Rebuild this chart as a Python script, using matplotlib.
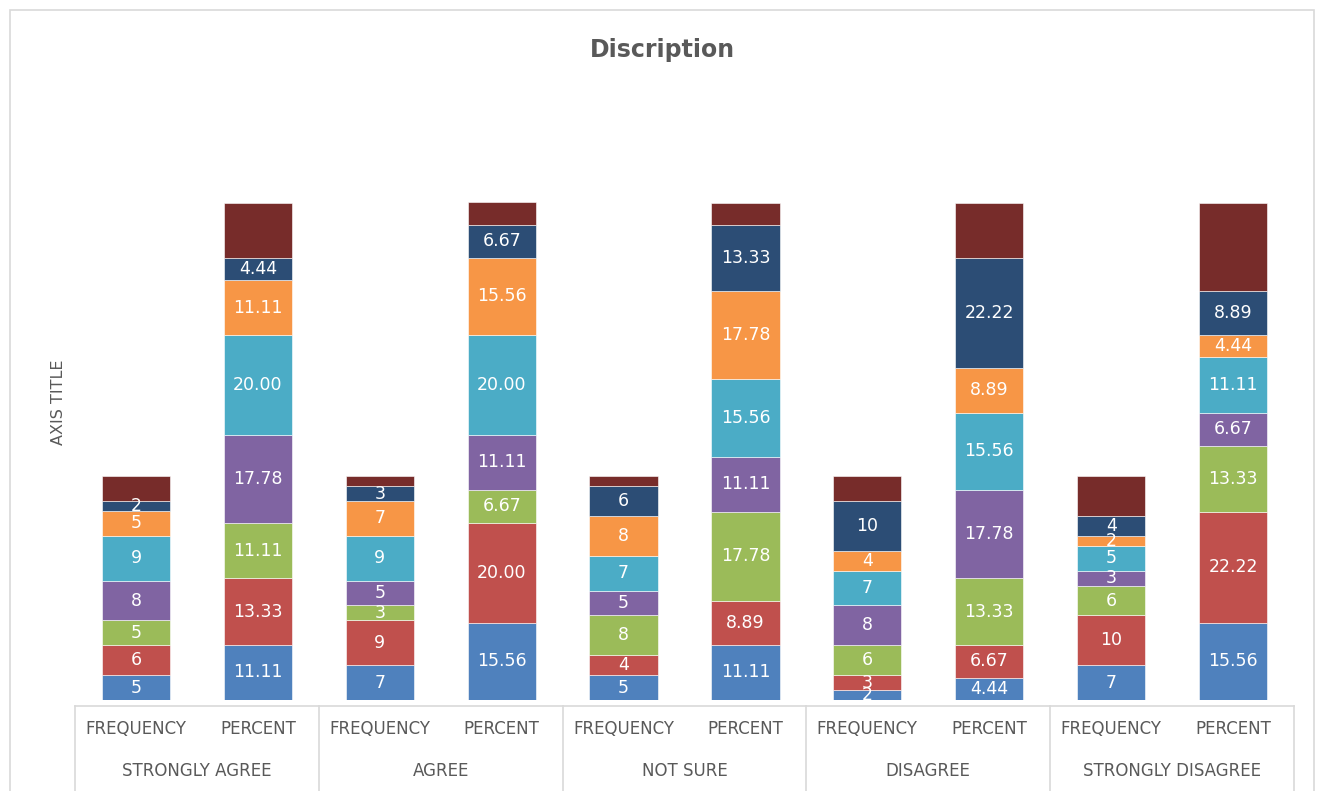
import matplotlib
matplotlib.use('Agg')
import matplotlib.pyplot as plt
from matplotlib.transforms import blended_transform_factory
from matplotlib.patches import Rectangle
from matplotlib.lines import Line2D

groups = ['STRONGLY AGREE', 'AGREE', 'NOT SURE', 'DISAGREE', 'STRONGLY DISAGREE']
subs = ['FREQUENCY', 'PERCENT']

# one list per series, values per group: (frequency, percent)
s1 = [(5, 11.11), (7, 15.56), (5, 11.11), (2, 4.44), (7, 15.56)]
s2 = [(6, 13.33), (9, 20.00), (4, 8.89), (3, 6.67), (10, 22.22)]
s3 = [(5, 11.11), (3, 6.67), (8, 17.78), (6, 13.33), (6, 13.33)]
s4 = [(8, 17.78), (5, 11.11), (5, 11.11), (8, 17.78), (3, 6.67)]
s5 = [(9, 20.00), (9, 20.00), (7, 15.56), (7, 15.56), (5, 11.11)]
s6 = [(5, 11.11), (7, 15.56), (8, 17.78), (4, 8.89), (2, 4.44)]
s7 = [(2, 4.44), (3, 6.67), (6, 13.33), (10, 22.22), (4, 8.89)]
s8 = [(5, 11.11), (2, 4.44), (2, 4.44), (5, 11.11), (8, 17.78)]
series = [s1, s2, s3, s4, s5, s6, s7, s8]
labelled = [True] * 7 + [False]

colors = ['#4F81BD', '#C0504D', '#9BBB59', '#8064A2', '#4BACC6',
          '#F79646', '#2C4D75', '#772C2A']

W, H = 1324, 791
fig = plt.figure(figsize=(W / 100, H / 100), dpi=100)
fig.patches.append(Rectangle((10 / W, -0.05), 1304 / W, 1.05 - 10 / H,
                             transform=fig.transFigure, fill=False,
                             edgecolor='#D9D9D9', linewidth=1.2))

ax = fig.add_axes([75 / W, 1 - 700 / H, 1219 / W, 597 / H])
ax.set_xlim(-0.5, 9.5)
ax.set_ylim(0, 120)
for sp in ax.spines.values():
    sp.set_visible(False)
ax.set_xticks([])
ax.set_yticks([])

xs = list(range(10))
bottoms = [0.0] * 10
for ser, col, lab in zip(series, colors, labelled):
    vals = []
    for f, p in ser:
        vals += [f, p]
    ax.bar(xs, vals, width=0.56, bottom=bottoms, color=col,
           edgecolor='white', linewidth=0.4)
    if lab:
        for i, v in enumerate(vals):
            txt = str(v) if i % 2 == 0 else '%.2f' % v
            ax.text(xs[i], bottoms[i] + v / 2, txt, ha='center', va='center',
                    color='white', fontsize=12.5)
    bottoms = [b + v for b, v in zip(bottoms, vals)]

tr = blended_transform_factory(ax.transData, fig.transFigure)
yline = 1 - 706 / H
ax.add_line(Line2D([-0.5, 9.5], [yline, yline], transform=tr,
                   color='#D9D9D9', linewidth=1.2, clip_on=False))
for k in range(6):
    xk = -0.5 + 2 * k
    ax.add_line(Line2D([xk, xk], [yline, 0], transform=tr,
                       color='#D9D9D9', linewidth=1.2, clip_on=False))
for g, name in enumerate(groups):
    for j, s in enumerate(subs):
        ax.text(2 * g + j, 1 - 729 / H, s, transform=tr, ha='center',
                va='center', fontsize=12, color='#595959')
    ax.text(2 * g + 0.5, 1 - 771 / H, name, transform=tr, ha='center',
            va='center', fontsize=12, color='#595959')

fig.text(0.5, 1 - 50 / H, 'Discription', ha='center', va='center',
         fontsize=17, fontweight='bold', color='#595959')
fig.text(58 / W, 1 - 402 / H, 'AXIS TITLE', rotation=90, ha='center',
         va='center', fontsize=11.5, color='#595959')

fig.savefig('out.png', dpi=100)
